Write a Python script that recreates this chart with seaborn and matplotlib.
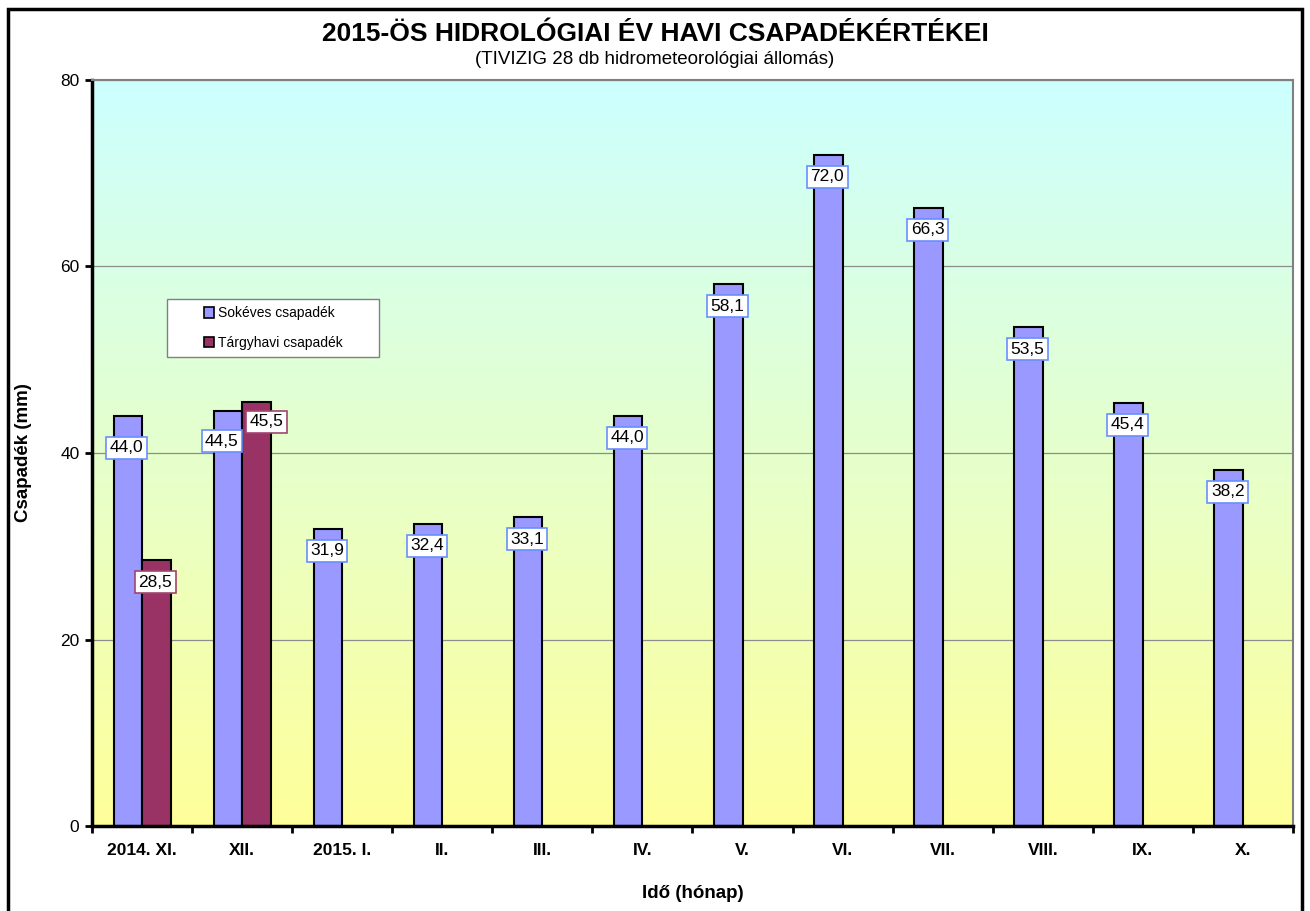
import matplotlib
matplotlib.use("Agg")
import matplotlib.pyplot as plt
import matplotlib.patches as mpatches
from matplotlib.colors import LinearSegmentedColormap
import numpy as np
import pandas as pd
import seaborn as sns

# havi csapadek adatok
honapok = ["2014. XI.", "XII.", "2015. I.", "II.", "III.", "IV.", "V.", "VI.",
           "VII.", "VIII.", "IX.", "X."]
sokeves = [44.0, 44.5, 31.9, 32.4, 33.1, 44.0, 58.1, 72.0, 66.3, 53.5, 45.4, 38.2]
targyhavi_honapok = ["2014. XI.", "XII."]
targyhavi = [28.5, 45.5]
sorozatok = ["Sokéves csapadék", "Tárgyhavi csapadék"]
szinek = ["#9999FF", "#993366"]
keret_szinek = ["#6A8FFF", "#A0466E"]
y_ticks = [0, 20, 40, 60, 80]

df = pd.concat([
    pd.DataFrame({"honap": honapok, "ertek": sokeves, "sorozat": sorozatok[0]}),
    pd.DataFrame({"honap": targyhavi_honapok, "ertek": targyhavi, "sorozat": sorozatok[1]}),
])

sns.set_style("white")
plt.rcParams["font.family"] = ["Liberation Sans", "DejaVu Sans"]
plt.rcParams.update({"text.color": "black", "axes.labelcolor": "black",
                     "xtick.color": "black", "ytick.color": "black"})

fig = plt.figure(figsize=(13.1, 9.11), dpi=100)
ax = fig.add_axes([92 / 1310, 1 - 826 / 911, 1201 / 1310, 746 / 911])

# hatter szinatmenet
cmap = LinearSegmentedColormap.from_list("bg", ["#FFFF99", "#CCFFFF"])
grad = np.linspace(0, 1, 256).reshape(-1, 1)
ax.imshow(grad, extent=[-0.5, 11.5, 0, 80], origin="lower", aspect="auto",
          cmap=cmap, zorder=0)

sns.barplot(data=df, x="honap", y="ertek", hue="sorozat", order=honapok,
            hue_order=sorozatok, palette=szinek, width=0.57, errorbar=None,
            edgecolor="black", linewidth=1.5, saturation=1, ax=ax, zorder=2,
            legend=False)

ax.set_xlim(-0.5, 11.5)
ax.set_ylim(0, 80)
ax.set_yticks(y_ticks)
ax.set_axisbelow(True)
ax.yaxis.grid(True, color="#8C8C8C", lw=0.9)

# adatcimkek
nudge = {(0, 0): (0, -10), (1, 0): (-5, -8), (1, 1): (11, 2)}
for si, cont in enumerate(ax.containers):
    for bi, bar in enumerate(cont):
        h = bar.get_height()
        if np.isnan(h) or h == 0:
            continue
        dx, dy = nudge.get((bi, si), (0, 0))
        ax.annotate(f"{h:.1f}".replace(".", ","),
                    (bar.get_x() + bar.get_width() / 2, h),
                    xytext=(dx - 1, -22 + dy), textcoords="offset pixels",
                    ha="center", va="center", fontsize=12.5, zorder=5,
                    bbox=dict(boxstyle="square,pad=0.2", fc="white",
                              ec=keret_szinek[si], lw=1.2))

# tengelyek
for s in ["left", "bottom"]:
    ax.spines[s].set_color("black")
    ax.spines[s].set_linewidth(2.5)
for s in ["top", "right"]:
    ax.spines[s].set_color("#808080")
    ax.spines[s].set_linewidth(1.5)

ax.tick_params(axis="y", which="major", direction="out", length=5, width=2,
               left=True, labelsize=12.5, pad=4)
ax.tick_params(axis="x", which="major", length=0, labelsize=12.5, pad=12)
ax.set_xticks(np.arange(-0.5, 12, 1), minor=True)
ax.tick_params(axis="x", which="minor", direction="out", length=5, width=2,
               bottom=True)
for lab in ax.get_xticklabels():
    lab.set_fontweight("bold")

ax.set_xlabel("Idő (hónap)", fontsize=13.5, fontweight="bold", labelpad=20)
ax.set_ylabel("Csapadék (mm)", fontsize=13.5, fontweight="bold", labelpad=20)

# jelmagyarazat: keret kulon, tartalom kozepre
ax.add_patch(mpatches.Rectangle((75 / 1201, 469 / 746), 212 / 1201, 58 / 746,
                                transform=ax.transAxes, fc="white",
                                ec="#808080", lw=1.0, zorder=4))
handles = [mpatches.Patch(fc=c, ec="black", lw=1.2) for c in szinek]
leg = ax.legend(handles, sorozatok, loc="center",
                bbox_to_anchor=(181 / 1201, 498 / 746),
                fontsize=10, frameon=False,
                handlelength=0.75, handleheight=0.75, handletextpad=0.25,
                labelspacing=1.1, borderpad=0.2)
leg.set_zorder(6)

fig.text(0.5, 1 - 34 / 911, "2015-ÖS HIDROLÓGIAI ÉV HAVI CSAPADÉKÉRTÉKEI",
         ha="center", va="center", fontsize=19, fontweight="bold")
fig.text(0.5, 1 - 59 / 911, "(TIVIZIG 28 db hidrometeorológiai állomás)",
         ha="center", va="center", fontsize=13.5)

fig.patches.append(mpatches.Rectangle((8 / 1310, -0.01), 1294 / 1310, 1.0,
                                      transform=fig.transFigure, fill=False,
                                      ec="black", lw=2.5))

fig.savefig("out.png", dpi=100)
